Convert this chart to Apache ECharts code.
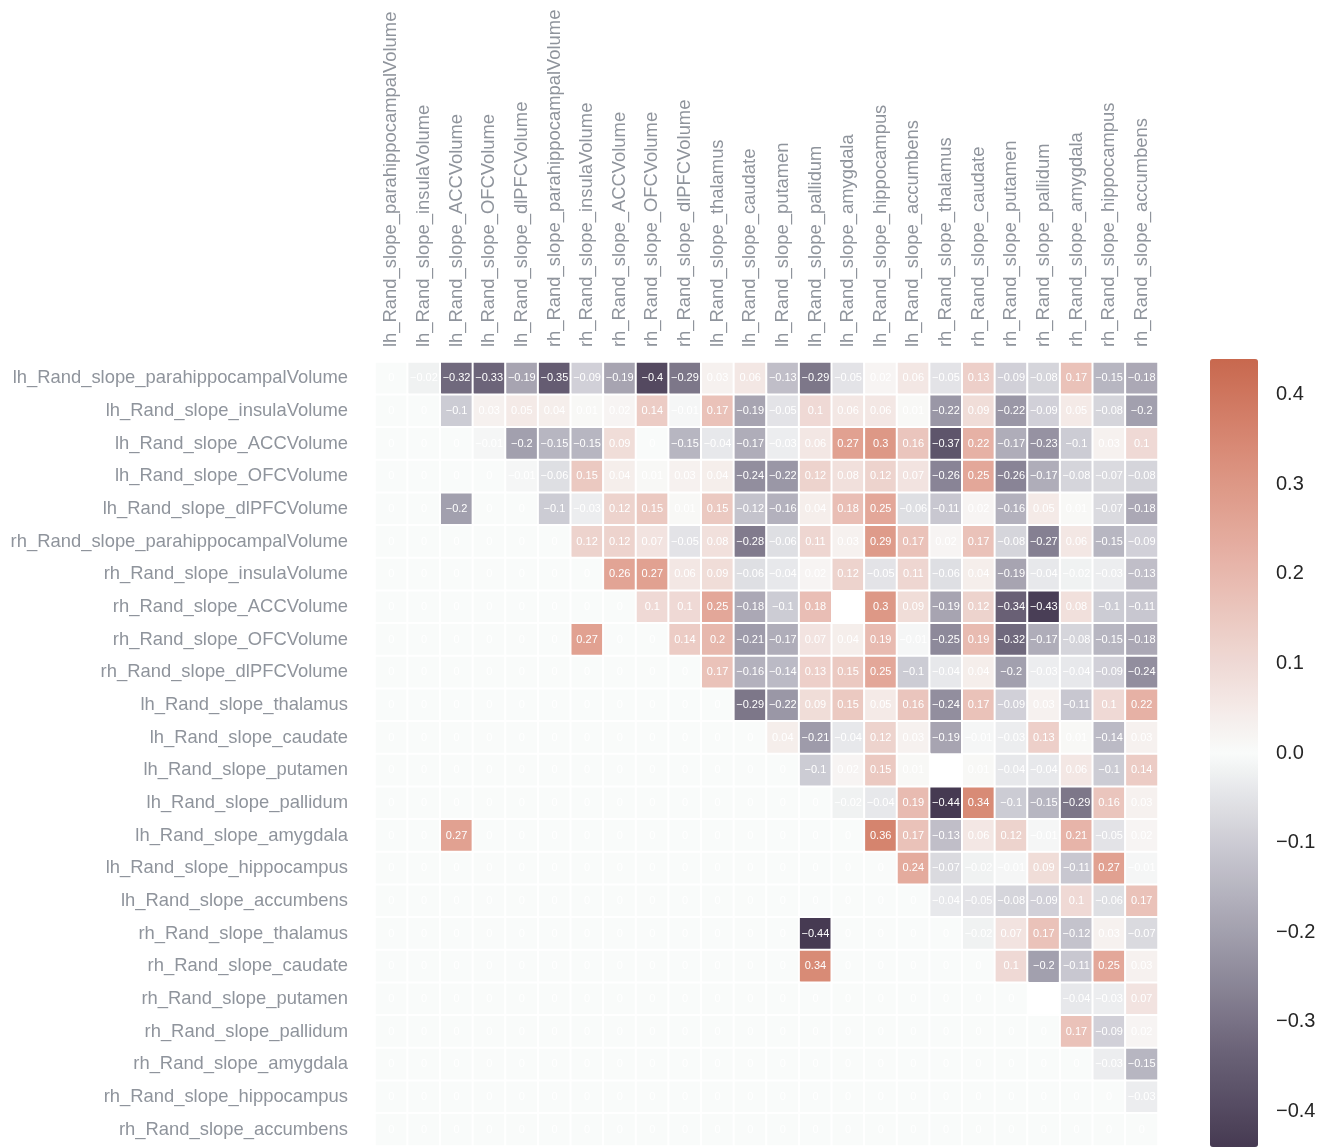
<!DOCTYPE html>
<html>
<head>
<meta charset="utf-8">
<script src="https://cdn.jsdelivr.net/npm/echarts@6/dist/echarts.min.js"></script>
<style>
html,body{margin:0;padding:0;background:#fff;}
#chart{width:1332px;height:1147px;}
</style>
</head>
<body>
<div id="chart"></div>
<script>
// Variable names (rows top->bottom, columns left->right)
const labels = [
  'lh_Rand_slope_parahippocampalVolume','lh_Rand_slope_insulaVolume','lh_Rand_slope_ACCVolume',
  'lh_Rand_slope_OFCVolume','lh_Rand_slope_dlPFCVolume','rh_Rand_slope_parahippocampalVolume',
  'rh_Rand_slope_insulaVolume','rh_Rand_slope_ACCVolume','rh_Rand_slope_OFCVolume',
  'rh_Rand_slope_dlPFCVolume','lh_Rand_slope_thalamus','lh_Rand_slope_caudate',
  'lh_Rand_slope_putamen','lh_Rand_slope_pallidum','lh_Rand_slope_amygdala',
  'lh_Rand_slope_hippocampus','lh_Rand_slope_accumbens','rh_Rand_slope_thalamus',
  'rh_Rand_slope_caudate','rh_Rand_slope_putamen','rh_Rand_slope_pallidum',
  'rh_Rand_slope_amygdala','rh_Rand_slope_hippocampus','rh_Rand_slope_accumbens'
];

// Upper triangle: row i holds values for columns i+1 .. 23 (null = empty cell)
const upperRow0  = [-0.02,-0.32,-0.33,-0.19,-0.35,-0.09,-0.19,-0.4,-0.29,0.03,0.06,-0.13,-0.29,-0.05,0.02,0.06,-0.05,0.13,-0.09,-0.08,0.17,-0.15,-0.18];
const upperRow1  = [-0.1,0.03,0.05,0.04,0.01,0.02,0.14,-0.01,0.17,-0.19,-0.05,0.1,0.06,0.06,0.01,-0.22,0.09,-0.22,-0.09,0.05,-0.08,-0.2];
const upperRow2  = [-0.01,-0.2,-0.15,-0.15,0.09,0,-0.15,-0.04,-0.17,-0.03,0.06,0.27,0.3,0.16,-0.37,0.22,-0.17,-0.23,-0.1,0.03,0.1];
const upperRow3  = [-0.01,-0.06,0.15,0.04,0.01,0.03,0.04,-0.24,-0.22,0.12,0.08,0.12,0.07,-0.26,0.25,-0.26,-0.17,-0.08,-0.07,-0.08];
const upperRow4  = [-0.1,-0.03,0.12,0.15,0.01,0.15,-0.12,-0.16,0.04,0.18,0.25,-0.06,-0.11,0.02,-0.16,0.05,0.01,-0.07,-0.18];
const upperRow5  = [0.12,0.12,0.07,-0.05,0.08,-0.28,-0.06,0.11,0.03,0.29,0.17,0.02,0.17,-0.08,-0.27,0.06,-0.15,-0.09];
const upperRow6  = [0.26,0.27,0.06,0.09,-0.06,-0.04,0.02,0.12,-0.05,0.11,-0.06,0.04,-0.19,-0.04,-0.02,-0.03,-0.13];
const upperRow7  = [0.1,0.1,0.25,-0.18,-0.1,0.18,null,0.3,0.09,-0.19,0.12,-0.34,-0.43,0.08,-0.1,-0.11];
const upperRow8  = [0.14,0.2,-0.21,-0.17,0.07,0.04,0.19,-0.01,-0.25,0.19,-0.32,-0.17,-0.08,-0.15,-0.18];
const upperRow9  = [0.17,-0.16,-0.14,0.13,0.15,0.25,-0.1,-0.04,0.04,-0.2,-0.03,-0.04,-0.09,-0.24];
const upperRow10 = [-0.29,-0.22,0.09,0.15,0.05,0.16,-0.24,0.17,-0.09,0.03,-0.11,0.1,0.22];
const upperRow11 = [0.04,-0.21,-0.04,0.12,0.03,-0.19,-0.01,-0.03,0.13,0.01,-0.14,0.03];
const upperRow12 = [-0.1,0.02,0.15,0.01,null,0.01,-0.04,-0.04,0.06,-0.1,0.14];
const upperRow13 = [-0.02,-0.04,0.19,-0.44,0.34,-0.1,-0.15,-0.29,0.16,0.03];
const upperRow14 = [0.36,0.17,-0.13,0.06,0.12,-0.01,0.21,-0.05,0.02];
const upperRow15 = [0.24,-0.07,-0.02,-0.01,0.09,-0.11,0.27,-0.01];
const upperRow16 = [-0.04,-0.05,-0.08,-0.09,0.1,-0.06,0.17];
const upperRow17 = [-0.02,0.07,0.17,-0.12,0.03,-0.07];
const upperRow18 = [0.1,-0.2,-0.11,0.25,0.03];
const upperRow19 = [null,-0.04,-0.03,0.07];
const upperRow20 = [0.17,-0.09,0.02];
const upperRow21 = [-0.03,-0.15];
const upperRow22 = [-0.03];

// Lower-triangle cells that are shown (row, column); value mirrored from upper triangle
const lowerShownRows = [4, 8, 14, 17, 18];
const lowerShownCols = [2, 6, 2, 13, 13];

// Colour bar tick labels
const colorbarTicks = [-0.4,-0.3,-0.2,-0.1,0.0,0.1,0.2,0.3,0.4];
const colorMin = -0.44, colorMax = 0.44;

const upperRows = [upperRow0,upperRow1,upperRow2,upperRow3,upperRow4,upperRow5,upperRow6,upperRow7,
  upperRow8,upperRow9,upperRow10,upperRow11,upperRow12,upperRow13,upperRow14,upperRow15,upperRow16,
  upperRow17,upperRow18,upperRow19,upperRow20,upperRow21,upperRow22,[]];

function upperVal(r, c) { return upperRows[r][c - r - 1]; }

const data = [];
const n = labels.length;
for (let r = 0; r < n; r++) {
  for (let c = 0; c < n; c++) {
    let v;
    if (c > r) {
      v = upperVal(r, c);
      if (v === null || v === undefined) continue;
    } else {
      v = 0;
      for (let k = 0; k < lowerShownRows.length; k++) {
        if (lowerShownRows[k] === r && lowerShownCols[k] === c) v = upperVal(c, r);
      }
    }
    data.push([c, r, v]);
  }
}

function fmtCell(v) {
  if (v === 0) return '0';
  return (v < 0 ? '\u2212' : '') + String(Math.abs(v));
}

const chart = echarts.init(document.getElementById('chart'), null, {renderer: 'canvas'});
const labelColor = '#8f949c';
chart.setOption({
  animation: false,
  backgroundColor: '#ffffff',
  textStyle: {fontFamily: 'Liberation Sans, Arial, sans-serif'},
  grid: [
    {left: 375, top: 362, width: 783, height: 784, outerBoundsMode: 'none', containLabel: false},
    {left: 1210, top: 359, width: 48, height: 788, outerBoundsMode: 'none', containLabel: false}
  ],
  xAxis: [
    {type: 'category', data: labels, position: 'top', gridIndex: 0,
     axisLine: {show: false}, axisTick: {show: false}, splitArea: {show: false},
     axisLabel: {rotate: -90, interval: 0, margin: 15, fontSize: 18.4, color: labelColor}},
    {type: 'value', gridIndex: 1, show: false, min: 0, max: 1}
  ],
  yAxis: [
    {type: 'category', data: labels, inverse: true, gridIndex: 0,
     axisLine: {show: false}, axisTick: {show: false}, splitArea: {show: false},
     axisLabel: {interval: 0, margin: 27, fontSize: 18.4, color: labelColor}},
    {type: 'value', gridIndex: 1, min: colorMin, max: colorMax, position: 'right',
     axisLine: {show: false}, axisTick: {show: false}, splitLine: {show: false},
     axisLabel: {customValues: colorbarTicks, margin: 18, fontSize: 20, color: '#262626',
       formatter: function (v) { return (v < -1e-9 ? '\u2212' : '') + Math.abs(v).toFixed(1); }}}
  ],
  visualMap: {
    type: 'continuous', min: colorMin, max: colorMax, seriesIndex: 0,
    calculable: false, orient: 'vertical', left: 1210, top: 359, padding: 0,
    itemWidth: 48, itemHeight: 788, text: null, showLabel: false, hoverLink: false,
    inRange: {color: ['#463a52','#6c6479','#9a97a6','#c8c7d0','#f9fbfa','#eed6d1','#e6b1a5','#da8e7a','#c8684e']}
  },
  series: [
    {type: 'heatmap', xAxisIndex: 0, yAxisIndex: 0, data: data,
     itemStyle: {borderColor: '#ffffff', borderWidth: 2},
     label: {show: true, color: '#ffffff', fontSize: 11,
       formatter: function (p) { return fmtCell(p.value[2]); }},
     emphasis: {disabled: true}},
    {type: 'scatter', xAxisIndex: 1, yAxisIndex: 1, data: [], silent: true}
  ]
});
</script>
</body>
</html>
